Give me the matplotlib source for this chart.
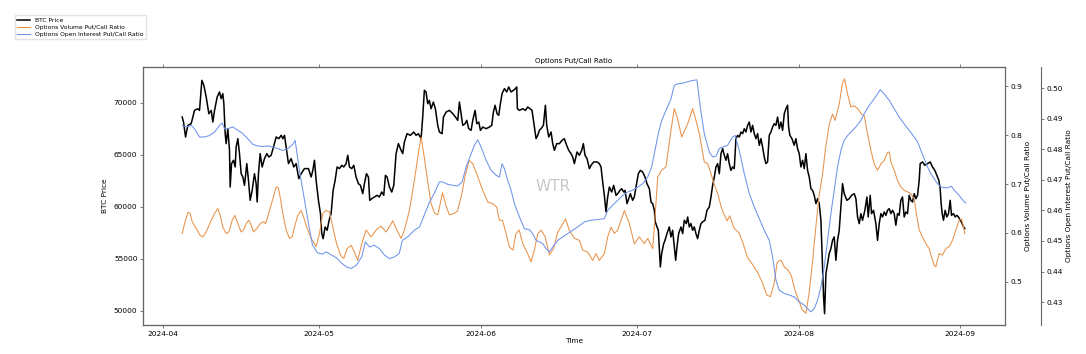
import numpy as np
import pandas as pd
import matplotlib
matplotlib.use('Agg')
import matplotlib.pyplot as plt
import matplotlib.dates as mdates

start = pd.Timestamp('2024-04-01')

# BTC price, (days since 2024-04-01, USD)
btc_apr = [(3.77, 68650), (4.02, 68170), (4.41, 66730), (4.85, 67850), (5.49, 68010), (6.13, 69290),
           (6.77, 69450), (7.09, 69290), (7.54, 72180), (7.92, 71700), (8.37, 70580), (8.88, 68970),
           (9.33, 69290), (9.65, 68170), (9.97, 69290), (10.48, 70580), (10.93, 71060), (11.24, 70420),
           (11.56, 70900), (11.76, 69930), (12.01, 67050), (12.20, 66090), (12.52, 67530), (12.84, 65450),
           (12.97, 61920), (13.23, 64170), (13.61, 64490), (13.93, 63850), (14.12, 65770), (14.44, 66570),
           (14.76, 65130), (15.08, 63200), (15.40, 62880), (15.72, 62080), (16.16, 64170), (16.48, 62560),
           (16.80, 60640), (17.19, 61600), (17.63, 63200), (17.95, 62240), (18.15, 60480), (18.40, 63200),
           (18.72, 65130), (19.10, 63850), (19.55, 64650), (20.00, 65130), (20.38, 64810), (20.83, 64970),
           (21.28, 65770), (21.79, 66730), (22.30, 66570), (22.75, 66890), (23.07, 66570), (23.39, 66890),
           (23.71, 65770), (24.15, 64170), (24.66, 64650), (25.17, 63850), (25.62, 64170), (26.13, 62720),
           (26.58, 63200), (27.22, 63690), (27.99, 63690), (28.50, 62880), (28.82, 63520), (29.14, 64490),
           (29.46, 62560), (29.90, 60640)]
btc_may = [(30.29, 59360), (30.54, 57440), (30.80, 56950), (31.18, 58080), (31.57, 57760), (31.95, 58720),
           (32.33, 59360), (32.72, 61600), (33.10, 62560), (33.48, 63850), (33.93, 63690), (34.38, 64010),
           (34.76, 63850), (35.21, 64170), (35.53, 64970), (35.85, 63850), (36.29, 63690), (36.68, 64010),
           (37.12, 62880), (37.57, 62240), (37.96, 62080), (38.40, 61280), (38.72, 62240), (39.11, 63200),
           (39.49, 62880), (39.74, 60640), (40.13, 60800), (40.64, 60960), (41.15, 61120), (41.60, 60960),
           (42.04, 61440), (42.43, 61120), (42.75, 63040), (43.07, 62880), (43.51, 61920), (43.96, 61440),
           (44.35, 62080), (44.79, 65130), (45.24, 66090), (45.75, 65450), (46.07, 65130), (46.39, 66250),
           (46.90, 67050), (47.54, 66890), (48.18, 67210), (48.63, 66890), (49.07, 67050), (49.59, 66570),
           (49.90, 68650), (50.22, 71220), (50.54, 71060), (50.86, 69930), (51.18, 70250), (51.50, 69450),
           (51.95, 70090), (52.33, 69450), (52.78, 67850), (53.10, 67210), (53.62, 67050), (53.88, 68650),
           (54.39, 69130), (55.03, 69290), (55.67, 68970), (56.18, 68650), (56.62, 68330), (56.94, 70090),
           (57.26, 68970), (57.58, 67850), (58.03, 68010), (58.35, 68330), (58.73, 67530), (59.18, 67370),
           (59.50, 68330), (59.95, 69290), (60.27, 68010), (60.65, 68170), (60.97, 67370)]
btc_jun = [(61.42, 67690), (62.06, 67530), (62.70, 67690), (63.14, 67850), (63.46, 69130), (63.78, 69780),
           (64.16, 68970), (64.48, 68810), (64.80, 69930), (65.12, 70900), (65.57, 71380), (66.02, 71060),
           (66.40, 71540), (66.85, 71060), (67.30, 71220), (67.68, 71380), (67.93, 71540), (68.06, 69450),
           (68.45, 69290), (69.09, 69450), (69.60, 69290), (70.04, 69610), (70.49, 69450), (70.87, 69290),
           (71.32, 67690), (71.64, 66570), (71.96, 66890), (72.28, 67370), (72.60, 67530), (73.05, 67850),
           (73.43, 69780), (73.69, 67850), (74.07, 66730), (74.52, 67210), (74.84, 66090), (75.16, 65450),
           (75.60, 66090), (76.11, 66090), (76.63, 66410), (77.07, 66570), (77.39, 66090), (77.90, 65450),
           (78.35, 65130), (78.67, 64810), (78.99, 64170), (79.50, 65290), (79.95, 64970), (80.40, 65450),
           (80.72, 66090), (81.03, 64970), (81.42, 64650), (81.87, 63690), (82.19, 64010), (82.70, 64330),
           (83.34, 64330), (83.78, 64170), (84.10, 63850), (84.42, 62400), (84.74, 61120), (85.06, 59520),
           (85.38, 60960), (85.70, 61920), (86.15, 61440), (86.53, 62080), (86.98, 61120), (87.30, 61280),
           (87.74, 61600), (88.06, 61760), (88.45, 61440), (88.70, 61600), (89.09, 60320), (89.41, 60800),
           (89.73, 61280), (90.17, 60640), (90.49, 60960), (90.81, 61920)]
btc_jul = [(91.26, 63200), (91.64, 63520), (92.09, 63360), (92.54, 62880), (92.92, 62240), (93.37, 61760),
           (93.69, 60480), (94.01, 60320), (94.33, 59680), (94.52, 58560), (94.84, 58080), (95.09, 57760),
           (95.48, 54230), (95.73, 55510), (96.12, 56470), (96.37, 56790), (96.75, 57440), (97.20, 58080),
           (97.52, 57120), (97.84, 57760), (98.16, 56150), (98.42, 54870), (98.67, 56150), (98.99, 57440),
           (99.44, 58080), (99.76, 57440), (100.08, 58720), (100.46, 58400), (100.72, 59040), (101.03, 58080),
           (101.35, 58400), (101.67, 57760), (101.99, 58080), (102.31, 57440), (102.63, 56950), (102.95, 57760),
           (103.27, 58400), (103.59, 58560), (104.04, 58720), (104.42, 59680), (104.87, 60000), (105.19, 60960),
           (105.51, 62080), (105.83, 62880), (106.15, 63850), (106.47, 64170), (106.79, 63200), (107.11, 65130),
           (107.43, 65610), (107.75, 64970), (108.07, 64490), (108.38, 65130), (108.70, 64170), (109.02, 63520),
           (109.34, 63850), (109.66, 63690), (109.98, 66570), (110.30, 66890), (110.62, 66730), (110.94, 67210),
           (111.26, 67050), (111.58, 67530), (111.90, 67210), (112.22, 67850), (112.54, 68170), (112.86, 67210),
           (113.18, 67850), (113.50, 67050), (113.82, 66570), (114.14, 67050), (114.46, 65930), (114.77, 66570),
           (115.09, 65770), (115.41, 64810), (115.73, 64170), (116.05, 64330), (116.37, 66890), (116.69, 67210),
           (117.01, 67690), (117.33, 68010), (117.65, 67850), (117.97, 68650), (118.29, 67530), (118.61, 68170),
           (118.93, 67370), (119.25, 68970), (119.57, 69450), (119.89, 69780), (120.08, 67690), (120.33, 66890),
           (120.72, 66570), (121.16, 65930), (121.48, 66570), (121.80, 65610)]
btc_aug = [(122.12, 65130), (122.44, 63850), (122.76, 64490), (123.08, 63690), (123.40, 65130), (123.72, 63520),
           (124.04, 62880), (124.36, 61760), (124.68, 61600), (125.00, 61120), (125.32, 60320), (125.64, 60800),
           (125.96, 60320), (126.28, 58720), (126.60, 54230), (126.79, 51350), (126.98, 49740), (127.24, 53590),
           (127.55, 54550), (127.87, 55510), (128.19, 55990), (128.51, 56790), (128.83, 57120), (129.15, 54870),
           (129.47, 56790), (129.79, 57760), (130.11, 60000), (130.43, 62240), (130.75, 61280), (131.26, 60640),
           (131.71, 60800), (132.16, 61120), (132.67, 61280), (132.99, 60800), (133.31, 59040), (133.63, 58400),
           (133.95, 59360), (134.26, 58720), (134.71, 59680), (135.10, 60960), (135.35, 59040), (135.73, 61120),
           (135.99, 59360), (136.37, 59680), (136.82, 58400), (137.14, 56790), (137.46, 58400), (137.78, 59360),
           (138.10, 59040), (138.42, 59520), (138.74, 59200), (139.06, 59680), (139.38, 59840), (139.70, 59360),
           (140.02, 59680), (140.34, 59360), (140.65, 58240), (140.97, 59360), (141.29, 59200), (141.61, 60640),
           (141.93, 60960), (142.25, 59040), (142.57, 59520), (142.89, 59360), (143.21, 61120), (143.53, 60640),
           (143.85, 60480), (144.17, 61280), (144.49, 60800), (144.81, 61120), (145.13, 62560), (145.32, 64170),
           (145.77, 64330), (146.21, 64010), (146.73, 64170), (147.24, 64330), (147.68, 63850), (148.13, 63520),
           (148.51, 63040), (148.90, 62560), (149.15, 61760), (149.34, 60320), (149.54, 59360), (149.79, 58720),
           (150.11, 59680), (150.43, 59040), (150.75, 59360), (151.07, 60640), (151.33, 59200), (151.71, 59360),
           (152.03, 59040), (152.35, 59200), (152.67, 59040), (152.99, 58720), (153.24, 58560), (153.63, 58080),
           (153.88, 57920)]

# options volume put/call ratio
vol_apr = [(3.77, 0.599), (4.22, 0.619), (4.85, 0.642), (5.30, 0.640), (5.69, 0.623), (6.45, 0.609),
           (7.22, 0.595), (7.73, 0.592), (8.37, 0.602), (9.33, 0.626), (9.97, 0.640), (10.61, 0.650),
           (11.05, 0.636), (11.56, 0.612), (12.20, 0.599), (12.71, 0.602), (13.35, 0.626), (13.87, 0.636),
           (14.44, 0.619), (15.08, 0.602), (15.53, 0.606), (16.04, 0.619), (16.55, 0.626), (17.00, 0.616),
           (17.44, 0.602), (18.08, 0.609), (18.72, 0.619), (19.36, 0.623), (19.74, 0.619), (20.19, 0.633),
           (20.70, 0.653), (21.28, 0.674), (21.79, 0.694), (22.17, 0.693), (22.55, 0.674), (23.07, 0.640),
           (23.71, 0.606), (24.34, 0.589), (24.86, 0.592), (25.30, 0.612), (25.94, 0.636), (26.58, 0.646),
           (27.03, 0.633), (27.86, 0.606), (28.50, 0.589), (29.46, 0.572)]
vol_may = [(30.10, 0.599), (30.73, 0.640), (31.37, 0.646), (32.01, 0.643), (32.65, 0.612), (33.29, 0.582),
           (34.12, 0.555), (34.76, 0.548), (35.40, 0.568), (36.17, 0.575), (36.81, 0.561), (37.44, 0.544),
           (38.21, 0.578), (39.04, 0.606), (40.00, 0.592), (40.96, 0.606), (41.92, 0.614), (42.88, 0.602),
           (43.71, 0.616), (44.15, 0.625), (44.79, 0.609), (45.75, 0.589), (46.39, 0.606), (47.35, 0.646),
           (48.31, 0.708), (49.26, 0.776), (49.59, 0.796), (50.10, 0.762), (50.74, 0.714), (51.50, 0.660),
           (52.20, 0.640), (52.80, 0.637), (53.70, 0.682), (54.40, 0.655), (55.00, 0.637), (55.90, 0.640),
           (56.60, 0.645), (57.40, 0.680), (58.10, 0.720), (58.80, 0.748), (59.50, 0.742), (60.50, 0.714)]
vol_jun = [(61.40, 0.687), (62.40, 0.663), (63.30, 0.660), (64.10, 0.653), (64.60, 0.626), (65.20, 0.626),
           (65.90, 0.599), (66.50, 0.572), (67.20, 0.565), (67.80, 0.599), (68.40, 0.606), (69.10, 0.578),
           (69.90, 0.561), (70.70, 0.541), (71.30, 0.565), (72.00, 0.599), (72.60, 0.606), (73.40, 0.592),
           (74.20, 0.555), (75.00, 0.568), (75.80, 0.602), (76.40, 0.612), (77.30, 0.629), (78.00, 0.606),
           (79.00, 0.589), (79.95, 0.585), (80.59, 0.565), (81.55, 0.561), (82.50, 0.544), (83.14, 0.558),
           (83.78, 0.544), (84.74, 0.558), (85.38, 0.592), (86.02, 0.612), (86.66, 0.599), (87.30, 0.606),
           (88.58, 0.646), (89.53, 0.619), (90.49, 0.578)]
vol_jul = [(91.45, 0.592), (92.41, 0.578), (93.05, 0.589), (94.01, 0.568), (94.33, 0.612), (94.97, 0.714),
           (95.73, 0.728), (96.56, 0.735), (97.52, 0.810), (98.16, 0.854), (98.80, 0.833), (99.57, 0.796),
           (100.72, 0.823), (101.67, 0.854), (102.31, 0.830), (102.95, 0.803), (103.91, 0.745), (104.55, 0.742),
           (105.19, 0.721), (105.80, 0.700), (106.50, 0.680), (107.10, 0.655), (107.60, 0.640), (108.30, 0.625),
           (108.80, 0.635), (109.60, 0.610), (110.60, 0.600), (111.30, 0.580), (112.20, 0.550), (113.20, 0.535),
           (114.10, 0.520), (115.00, 0.500), (115.90, 0.473), (116.60, 0.470), (117.30, 0.497), (117.90, 0.540),
           (118.60, 0.545), (119.30, 0.530), (119.90, 0.525), (120.60, 0.513), (121.30, 0.483)]
vol_aug = [(122.00, 0.463), (122.70, 0.443), (123.40, 0.436), (124.00, 0.476), (124.70, 0.544), (125.30, 0.612),
           (125.90, 0.674), (126.60, 0.721), (127.20, 0.776), (127.90, 0.823), (128.50, 0.843), (129.00, 0.830),
           (129.80, 0.864), (130.40, 0.905), (130.80, 0.915), (131.39, 0.884), (132.03, 0.857), (132.67, 0.860),
           (133.31, 0.854), (133.95, 0.844), (134.58, 0.840), (135.22, 0.803), (135.86, 0.769), (136.50, 0.741),
           (137.14, 0.728), (137.78, 0.741), (138.42, 0.748), (139.06, 0.765), (139.38, 0.765), (139.70, 0.745),
           (140.34, 0.728), (140.97, 0.707), (141.61, 0.694), (142.25, 0.687), (142.89, 0.684), (143.53, 0.680),
           (144.17, 0.670), (144.49, 0.646), (145.13, 0.606), (145.77, 0.592), (146.41, 0.578), (147.04, 0.568),
           (147.49, 0.551), (148.00, 0.534), (148.32, 0.531), (148.96, 0.558), (149.60, 0.555), (150.24, 0.568),
           (150.88, 0.572), (151.52, 0.585), (152.15, 0.606), (152.79, 0.626), (153.24, 0.629), (153.63, 0.612),
           (153.88, 0.599)]

# options open interest put/call ratio
oi_apr = [(3.77, 0.4878), (4.54, 0.4873), (5.49, 0.4878), (6.13, 0.4867), (7.09, 0.4840), (8.05, 0.4840),
          (9.01, 0.4845), (9.97, 0.4856), (10.93, 0.4878), (11.44, 0.4886), (11.88, 0.4867), (12.52, 0.4867),
          (13.48, 0.4873), (14.44, 0.4862), (15.40, 0.4851), (16.36, 0.4834), (17.32, 0.4816), (18.27, 0.4811),
          (19.23, 0.4809), (20.19, 0.4811), (21.15, 0.4807), (22.11, 0.4802), (23.07, 0.4796), (24.02, 0.4802),
          (24.98, 0.4816), (25.43, 0.4829), (26.27, 0.4729), (27.22, 0.4634), (28.18, 0.4539), (28.76, 0.4487),
          (29.70, 0.4461)]
oi_may = [(30.70, 0.4457), (31.40, 0.4464), (32.40, 0.4454), (33.40, 0.4444), (34.30, 0.4428), (35.30, 0.4415),
          (36.20, 0.4410), (37.20, 0.4421), (38.20, 0.4448), (38.90, 0.4497), (39.70, 0.4480), (40.60, 0.4486),
          (41.60, 0.4475), (42.60, 0.4453), (43.50, 0.4442), (44.50, 0.4448), (45.40, 0.4459), (46.00, 0.4502),
          (47.00, 0.4513), (48.30, 0.4535), (49.30, 0.4546), (50.20, 0.4584), (51.20, 0.4627), (52.10, 0.4655),
          (53.10, 0.4693), (53.75, 0.4693), (54.71, 0.4685), (55.67, 0.4682), (56.62, 0.4680), (57.46, 0.4693),
          (58.22, 0.4742), (59.18, 0.4785), (59.82, 0.4813), (60.46, 0.4831)]
oi_jun = [(61.10, 0.4807), (62.06, 0.4764), (63.01, 0.4731), (63.97, 0.4715), (64.61, 0.4709), (65.12, 0.4753),
          (65.57, 0.4736), (66.21, 0.4698), (66.85, 0.4666), (67.49, 0.4622), (68.45, 0.4579), (69.40, 0.4540),
          (70.36, 0.4537), (71.00, 0.4524), (71.64, 0.4502), (72.28, 0.4497), (72.92, 0.4491), (73.56, 0.4475),
          (74.20, 0.4464), (74.84, 0.4480), (75.80, 0.4502), (76.75, 0.4513), (77.71, 0.4524), (78.67, 0.4535),
          (79.63, 0.4546), (80.91, 0.4562), (82.19, 0.4568), (83.46, 0.4570), (84.74, 0.4573), (85.38, 0.4600),
          (86.34, 0.4617), (87.30, 0.4633), (88.26, 0.4649), (89.21, 0.4660), (90.17, 0.4666)]
oi_jul = [(91.13, 0.4676), (92.09, 0.4687), (93.05, 0.4709), (93.81, 0.4742), (94.45, 0.4796), (95.09, 0.4851),
          (95.73, 0.4894), (96.56, 0.4927), (97.52, 0.4965), (98.16, 0.5009), (98.80, 0.5014), (99.76, 0.5016),
          (100.72, 0.5021), (101.67, 0.5025), (102.50, 0.5027), (103.14, 0.4938), (103.91, 0.4851), (104.87, 0.4791),
          (105.51, 0.4775), (106.15, 0.4777), (106.79, 0.4802), (107.43, 0.4807), (108.38, 0.4813), (109.34, 0.4840),
          (109.85, 0.4845), (110.62, 0.4796), (111.58, 0.4720), (112.54, 0.4655), (113.50, 0.4611), (114.46, 0.4573),
          (115.41, 0.4535), (116.37, 0.4502), (117.01, 0.4448), (117.65, 0.4372), (118.29, 0.4339), (119.25, 0.4328),
          (120.21, 0.4323), (121.16, 0.4317)]
oi_aug = [(122.12, 0.4301), (123.08, 0.4290), (123.72, 0.4279), (124.36, 0.4268), (125.00, 0.4279), (125.64, 0.4306),
          (126.28, 0.4350), (126.92, 0.4415), (127.55, 0.4502), (128.19, 0.4589), (128.83, 0.4666), (129.47, 0.4742),
          (130.11, 0.4796), (130.75, 0.4829), (131.39, 0.4845), (132.03, 0.4856), (132.99, 0.4873), (133.95, 0.4894),
          (134.58, 0.4916), (135.54, 0.4943), (136.50, 0.4965), (137.14, 0.4981), (137.65, 0.4995), (138.42, 0.4981),
          (139.38, 0.4960), (140.34, 0.4932), (141.29, 0.4905), (142.25, 0.4883), (143.21, 0.4862), (144.17, 0.4840),
          (144.81, 0.4824), (145.45, 0.4796), (146.09, 0.4769), (146.73, 0.4742), (147.36, 0.4720), (148.00, 0.4704),
          (148.64, 0.4687), (149.28, 0.4677), (149.92, 0.4674), (150.56, 0.4674), (151.33, 0.4679), (151.84, 0.4666),
          (152.79, 0.4649), (153.75, 0.4628), (154.07, 0.4624)]


def to_series(*chunks):
    pts = [p for c in chunks for p in c]
    t = start + pd.to_timedelta([p[0] for p in pts], unit='D')
    return t, np.array([p[1] for p in pts])


btc_t, btc = to_series(btc_apr, btc_may, btc_jun, btc_jul, btc_aug)
vol_t, vol = to_series(vol_apr, vol_may, vol_jun, vol_jul, vol_aug)
oi_t, oi = to_series(oi_apr, oi_may, oi_jun, oi_jul, oi_aug)

fs = 5.3
spine_c = '#666666'

fig = plt.figure(figsize=(10.86, 3.54), dpi=100)
ax = fig.add_axes([0.1317, 0.0819, 0.7937, 0.7288])
ax2 = ax.twinx()
ax3 = ax.twinx()
ax3.spines['right'].set_position(('axes', 1.042))

l1, = ax.plot(btc_t, btc, color='black', lw=1.1, label='BTC Price')
l2, = ax2.plot(vol_t, vol, color='#e8924a', lw=0.75, label='Options Volume Put/Call Ratio')
l3, = ax3.plot(oi_t, oi, color='#6f93ea', lw=0.75, label='Options Open Interest Put/Call Ratio')

ax.set_ylim(48650, 73460)
ax2.set_ylim(0.412, 0.939)
ax3.set_ylim(0.4225, 0.5069)
ax.set_yticks([50000, 55000, 60000, 65000, 70000])
ax2.set_yticks([0.5, 0.6, 0.7, 0.8, 0.9])
ax3.set_yticks([0.43, 0.44, 0.45, 0.46, 0.47, 0.48, 0.49, 0.50])
ax3.yaxis.set_major_formatter(plt.FormatStrFormatter('%.2f'))

ax.xaxis.set_major_locator(mdates.MonthLocator())
ax.xaxis.set_major_formatter(mdates.DateFormatter('%Y-%m'))
ax.tick_params(axis='x', top=True)

for a in (ax, ax2, ax3):
    for s in a.spines.values():
        s.set_color(spine_c)
        s.set_linewidth(0.8)
    a.tick_params(labelsize=fs, length=2.5, width=0.6, color=spine_c, pad=1.5)

ax.set_title('Options Put/Call Ratio', fontsize=5.1, pad=3)
ax.set_xlabel('Time', fontsize=fs, labelpad=1)
ax.set_ylabel('BTC Price', fontsize=fs, labelpad=4)
ax2.set_ylabel('Options Volume Put/Call Ratio', fontsize=fs, labelpad=2)
ax3.set_ylabel('Options Open Interest Put/Call Ratio', fontsize=fs, labelpad=2)

ax.text(0.476, 0.535, 'WTR', transform=ax.transAxes, fontsize=11, color='#c8c8c8',
        ha='center', va='center', zorder=0)

fig.legend(handles=[l1, l2, l3], loc='upper left', bbox_to_anchor=(0.011, 0.965),
           fontsize=4.3, frameon=True, edgecolor='#dddddd', fancybox=False,
           handlelength=2.2, borderpad=0.4, labelspacing=0.3)

fig.savefig('out.png', dpi=100)
